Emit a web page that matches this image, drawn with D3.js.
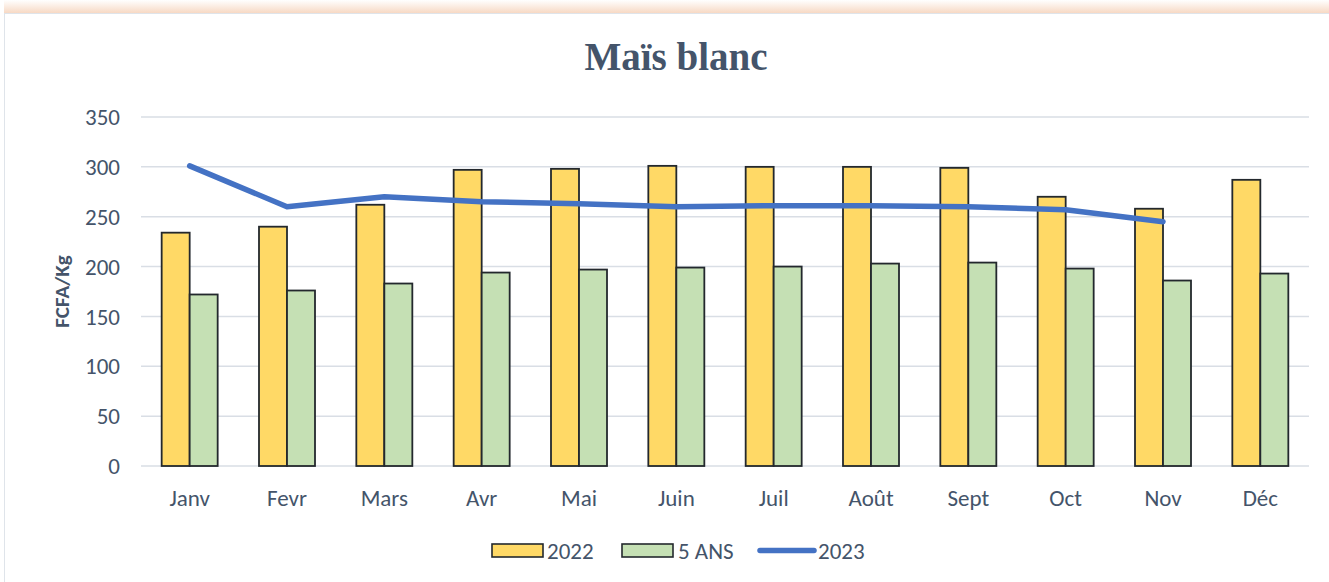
<!DOCTYPE html>
<html><head><meta charset="utf-8">
<script src="https://cdn.jsdelivr.net/npm/d3@7"></script>
<style>
html,body{margin:0;padding:0;background:#fff;}
svg{display:block;}
</style></head>
<body>
<svg id="chart" width="1329" height="582"></svg>
<script>
const categories = ["Janv","Fevr","Mars","Avr","Mai","Juin","Juil","Août","Sept","Oct","Nov","Déc"];
const values2022 = [234,240,262,297,298,301,300,300,299,270,258,287];
const values5ans = [172,176,183,194,197,199,200,203,204,198,186,193];
const values2023 = [301,260,270,265,263,260,261,261,260,257,245];
const yTicks = [0,50,100,150,200,250,300,350];
const seriesNames = ["2022","5 ANS","2023"];
const colors = {y2022:"#FFD966", y5:"#C5E0B4", y2023:"#4472C4"};

const W = 1329, H = 582;
const svg = d3.select("#chart");
const font = "Carlito, Calibri, Lato, 'Open Sans', sans-serif";
const textColor = "#44546A";
const fs = 23;

// top peach shadow
const defs = svg.append("defs");
const g1 = defs.append("linearGradient").attr("id","sh").attr("x1",0).attr("y1",0).attr("x2",0).attr("y2",1);
g1.append("stop").attr("offset","0%").attr("stop-color","#fff");
g1.append("stop").attr("offset","100%").attr("stop-color","#f7d9c4");
svg.append("rect").attr("x",4).attr("y",0).attr("width",W).attr("height",13).attr("fill","url(#sh)");
// card
svg.append("rect").attr("x",4.5).attr("y",13.5).attr("width",W+10).attr("height",H+10)
  .attr("fill","#fff").attr("stroke","#dfe4ea").attr("stroke-width",1);

const m = {left:141, right:1309, top:117, bottom:466};
const x = d3.scaleBand().domain(categories).range([m.left,m.right]).paddingInner(0).paddingOuter(0);
const y = d3.scaleLinear().domain([0,350]).range([m.bottom,m.top]);

// gridlines
svg.append("g").selectAll("line").data(yTicks).join("line")
  .attr("x1",m.left).attr("x2",m.right)
  .attr("y1",d=>y(d)).attr("y2",d=>y(d))
  .attr("stroke","#d9dee5").attr("stroke-width",1.5);

// y axis labels
const yAxis = d3.axisLeft(y).tickValues(yTicks).tickSize(0).tickPadding(0);
const ya = svg.append("g").attr("transform",`translate(${m.left-21},0)`).call(yAxis);
ya.select(".domain").remove();
ya.selectAll("text").attr("font-family",font).attr("font-size",fs).attr("fill",textColor).attr("dy","0.33em");

// x axis labels
const xAxis = d3.axisBottom(x).tickSize(0).tickPadding(0);
const xa = svg.append("g").attr("transform",`translate(0,0)`).call(xAxis);
xa.select(".domain").remove();
xa.selectAll("text").attr("font-family",font).attr("font-size",fs).attr("fill",textColor).attr("y",506).attr("dy",0);

// bars
const bw = 28;
const grp = svg.append("g");
grp.selectAll("rect.a").data(categories).join("rect").attr("class","a")
  .attr("x",d=>x(d)+x.bandwidth()/2-bw).attr("width",bw)
  .attr("y",(d,i)=>y(values2022[i])).attr("height",(d,i)=>y(0)-y(values2022[i]))
  .attr("fill",colors.y2022).attr("stroke","#23282d").attr("stroke-width",1.8);
grp.selectAll("rect.b").data(categories).join("rect").attr("class","b")
  .attr("x",d=>x(d)+x.bandwidth()/2).attr("width",bw)
  .attr("y",(d,i)=>y(values5ans[i])).attr("height",(d,i)=>y(0)-y(values5ans[i]))
  .attr("fill",colors.y5).attr("stroke","#23282d").attr("stroke-width",1.8);

// line
const line = d3.line().x((d,i)=>x(categories[i])+x.bandwidth()/2).y(d=>y(d));
svg.append("path").datum(values2023).attr("d",line)
  .attr("fill","none").attr("stroke",colors.y2023).attr("stroke-width",5.5)
  .attr("stroke-linecap","round").attr("stroke-linejoin","round");

// title
svg.append("text").attr("x",676).attr("y",70).attr("text-anchor","middle")
  .attr("font-family","'Liberation Serif','Times New Roman',serif").attr("font-weight","bold")
  .attr("font-size",39).attr("fill","#44546A").text("Maïs blanc");

// y label
svg.append("text").attr("transform",`translate(69,${(m.top+m.bottom)/2}) rotate(-90)`)
  .attr("text-anchor","middle").attr("font-family",font).attr("font-weight","bold")
  .attr("font-size",21).attr("fill",textColor).text("FCFA/Kg");

// legend
const lg = svg.append("g");
const legendItems = [
  {name:seriesNames[0], type:"rect", fill:colors.y2022, x:492, tx:547},
  {name:seriesNames[1], type:"rect", fill:colors.y5, x:622, tx:678},
  {name:seriesNames[2], type:"line", fill:colors.y2023, x:760, tx:818}
];
legendItems.forEach(it=>{
  if(it.type==="rect"){
    lg.append("rect").attr("x",it.x).attr("y",544).attr("width",51).attr("height",13)
      .attr("fill",it.fill).attr("stroke","#23282d").attr("stroke-width",1.6);
  } else {
    lg.append("line").attr("x1",it.x).attr("x2",it.x+54).attr("y1",550.5).attr("y2",550.5)
      .attr("stroke",it.fill).attr("stroke-width",5.5).attr("stroke-linecap","round");
  }
  lg.append("text").attr("x",it.tx).attr("y",550.5).attr("dy","0.35em")
    .attr("font-family",font).attr("font-size",fs).attr("fill",textColor).text(it.name);
});
</script>
</body></html>
